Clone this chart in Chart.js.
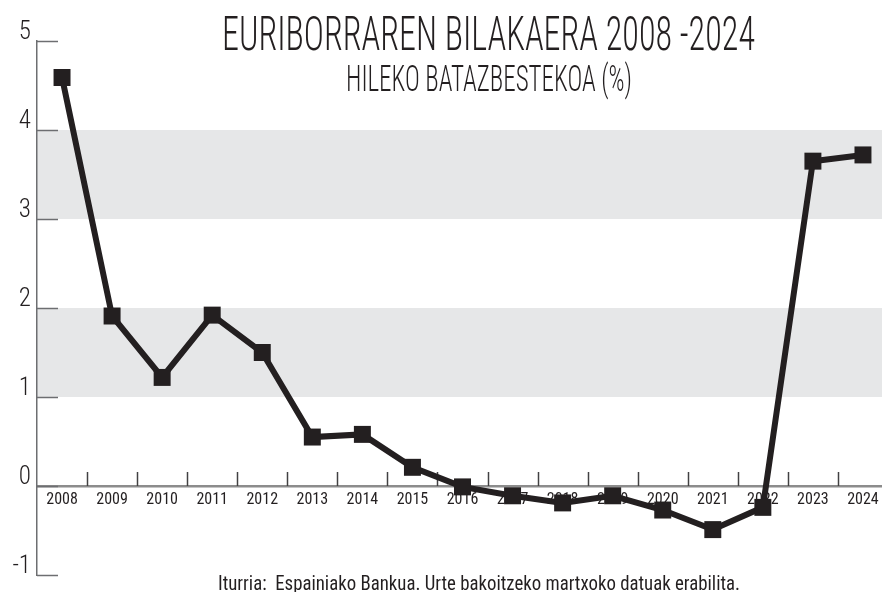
<!DOCTYPE html>
<html>
<head>
<meta charset="utf-8">
<script src="https://cdn.jsdelivr.net/npm/chart.js@4/dist/chart.umd.min.js"></script>
<style>
  html, body { margin: 0; padding: 0; background: #fff; overflow: hidden; }
  #wrap { width: 900px; height: 592px; }
</style>
</head>
<body>
<div id="wrap"><canvas id="euriborChart" width="900" height="592"></canvas></div>
<script>
// Euribor, March value of each year (%)
const years = ["2008", "2009", "2010", "2011", "2012", "2013", "2014", "2015", "2016",
  "2017", "2018", "2019", "2020", "2021", "2022", "2023", "2024"];
const euribor = [4.59, 1.91, 1.22, 1.92, 1.50, 0.55, 0.58, 0.21, -0.01,
  -0.11, -0.19, -0.11, -0.27, -0.49, -0.24, 3.65, 3.72];
const shadedBands = [[1, 2], [3, 4]];

const titleText = "EURIBORRAREN BILAKAERA 2008 -2024";
const subtitleText = "HILEKO BATAZBESTEKOA (%)";
const sourceText = "Iturria:  Espainiako Bankua. Urte bakoitzeko martxoko datuak erabilita.";

const INK = "#231f20";
const FONT = "'Roboto Condensed', Roboto, 'DejaVu Sans Condensed', sans-serif";

// draws a line of text squeezed to a given width (condensed look)
function drawFitted(ctx, text, cx, baseline, size, width, weight) {
  ctx.save();
  ctx.font = weight + " " + size + "px " + FONT;
  ctx.fillStyle = INK;
  ctx.textAlign = "center";
  ctx.textBaseline = "alphabetic";
  const natural = ctx.measureText(text).width;
  ctx.translate(cx, baseline);
  ctx.scale(width / natural, 1);
  ctx.fillText(text, 0, 0);
  ctx.restore();
}

const decorations = {
  id: "decorations",
  beforeDraw(chart) {
    const { ctx, chartArea, scales } = chart;
    ctx.save();
    ctx.fillStyle = "#ffffff";
    ctx.fillRect(0, 0, chart.width, chart.height);
    ctx.fillStyle = "#e6e7e8";
    shadedBands.forEach(([lo, hi]) => {
      const top = scales.y.getPixelForValue(hi);
      const bottom = scales.y.getPixelForValue(lo);
      ctx.fillRect(chartArea.left, top, chartArea.right - chartArea.left, bottom - top);
    });
    ctx.restore();
  },
  beforeDatasetsDraw(chart) {
    const { ctx, chartArea, scales } = chart;
    ctx.save();
    // short y tick marks pointing into the plot
    ctx.strokeStyle = "#6d6e71";
    ctx.lineWidth = 1.5;
    for (let v = scales.y.min; v <= scales.y.max; v++) {
      const y = Math.round(scales.y.getPixelForValue(v)) + 0.5;
      ctx.beginPath();
      ctx.moveTo(chartArea.left, y);
      ctx.lineTo(chartArea.left + 21, y);
      ctx.stroke();
    }
    // category separators rising from the zero line
    const y0 = scales.y.getPixelForValue(0);
    ctx.strokeStyle = "#414042";
    for (let i = 1; i < years.length; i++) {
      const x = Math.round((scales.x.getPixelForValue(i - 1) + scales.x.getPixelForValue(i)) / 2) + 0.5;
      ctx.beginPath();
      ctx.moveTo(x, y0);
      ctx.lineTo(x, y0 - 14);
      ctx.stroke();
    }
    ctx.restore();
  },
  afterDraw(chart) {
    const ctx = chart.ctx;
    drawFitted(ctx, titleText, 488.5, 50, 48, 533, "300");
    drawFitted(ctx, subtitleText, 489, 91, 36, 286, "300");
    drawFitted(ctx, sourceText, 479, 590, 21, 522, "400");
  }
};

const ctx = document.getElementById("euriborChart").getContext("2d");

new Chart(ctx, {
  type: "line",
  data: {
    labels: years,
    datasets: [
      {
        label: "Euribor",
        data: euribor,
        borderColor: INK,
        borderWidth: 6,
        tension: 0,
        pointStyle: "rect",
        pointRadius: 12,
        pointBackgroundColor: INK,
        pointBorderWidth: 0,
      },
    ],
  },
  options: {
    responsive: false,
    animation: false,
    layout: {
      padding: { top: 41, bottom: 17, left: 0, right: 3 },
    },
    plugins: {
      legend: { display: false },
      tooltip: { enabled: false },
    },
    scales: {
      x: {
        type: "category",
        offset: true,
        position: { y: 0 },
        grid: { display: false, drawTicks: false },
        border: { display: true, color: "#8c8c8c", width: 2.5 },
        ticks: {
          color: INK,
          padding: 4,
          maxRotation: 0,
          autoSkip: false,
          font: { family: FONT, size: 16, weight: "400" },
        },
      },
      y: {
        min: -1,
        max: 5,
        grid: { display: false, drawTicks: false },
        border: { display: true, color: "#6d6e71", width: 1.5 },
        ticks: {
          stepSize: 1,
          color: INK,
          padding: 6,
          labelOffset: -8,
          font: { family: FONT, size: 25, weight: "300" },
        },
        afterFit(scale) {
          scale.width = 37;
          scale.paddingTop = 0;
          scale.paddingBottom = 0;
        },
      },
    },
  },
  plugins: [decorations],
});
</script>
</body>
</html>
